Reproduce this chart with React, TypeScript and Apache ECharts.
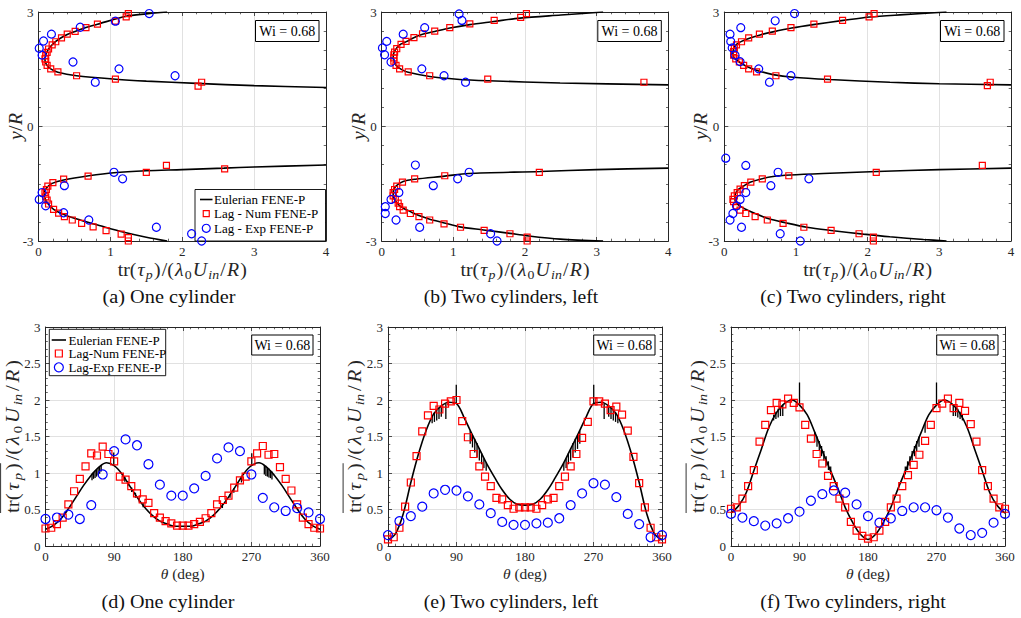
import React, { useEffect, useRef } from 'react';
import * as echarts from 'echarts';

const SERIF = '"Liberation Serif", "Times New Roman", Times, serif';
const INK = '#262626';
const GRIDLINE = '#e1e1e1';
const RED = '#ff0000';
const BLUE = '#0000ff';

// ---------- (a)-(c): polymer stress trace along the vertical line, pairs [tr, y/R] ----------
const eulerA_upper: number[][] = [[1.79, 3.0], [1.5, 2.95], [1.22, 2.89], [0.82, 2.68], [0.65, 2.59], [0.51, 2.49], [0.4, 2.41], [0.31, 2.32], [0.24, 2.23], [0.19, 2.14], [0.14, 2.03], [0.115, 1.94], [0.095, 1.84], [0.09, 1.76], [0.095, 1.69], [0.12, 1.6], [0.17, 1.51], [0.27, 1.42], [0.53, 1.33], [1.07, 1.24], [1.5, 1.19], [2.2, 1.13], [3.0, 1.07], [4.0, 1.02]];
const eulerA_lower: number[][] = [[4.0, -1.01], [3.0, -1.06], [2.58, -1.09], [2.0, -1.13], [1.5, -1.16], [1.05, -1.21], [0.7, -1.29], [0.35, -1.4], [0.19, -1.49], [0.12, -1.59], [0.085, -1.7], [0.08, -1.8], [0.09, -1.88], [0.12, -2.0], [0.21, -2.17], [0.37, -2.32], [0.58, -2.45], [0.86, -2.6], [1.19, -2.77], [1.5, -2.9], [1.79, -3.0]];
const numA: number[][] = [[1.25, 2.96], [1.22, 2.87], [1.07, 2.76], [0.82, 2.68], [0.66, 2.59], [0.51, 2.49], [0.4, 2.42], [0.32, 2.32], [0.24, 2.22], [0.19, 2.14], [0.14, 2.03], [0.12, 1.94], [0.1, 1.86], [0.09, 1.77], [0.1, 1.69], [0.12, 1.6], [0.17, 1.51], [0.27, 1.43], [0.53, 1.33], [1.07, 1.24], [2.22, 1.06], [2.27, 1.16],
  [1.78, -1.02], [2.59, -1.11], [1.5, -1.2], [0.69, -1.3], [0.35, -1.38], [0.2, -1.47], [0.13, -1.56], [0.11, -1.65], [0.09, -1.73], [0.1, -1.84], [0.12, -1.93], [0.14, -2.03], [0.21, -2.17], [0.28, -2.27], [0.36, -2.36], [0.47, -2.45], [0.6, -2.54], [0.76, -2.63], [0.94, -2.73], [1.15, -2.82], [1.25, -2.91], [1.25, -3.0]];
const expA: number[][] = [[1.54, 2.96], [1.07, 2.76], [0.58, 2.6], [0.18, 2.42], [0.07, 2.24], [0.01, 2.05], [0.05, 1.87], [0.48, 1.69], [1.12, 1.51], [1.9, 1.33], [0.79, 1.16],
  [1.05, -1.2], [1.17, -1.37], [0.36, -1.55], [0.05, -1.73], [0.01, -1.91], [0.1, -2.08], [0.35, -2.26], [0.7, -2.45], [1.64, -2.64], [2.13, -2.81], [2.27, -3.0]];

const eulerB_upper: number[][] = [[3.09, 3.0], [2.5, 2.92], [1.93, 2.84], [1.56, 2.75], [1.23, 2.67], [0.95, 2.58], [0.74, 2.49], [0.56, 2.41], [0.44, 2.32], [0.35, 2.23], [0.26, 2.15], [0.21, 2.06], [0.17, 1.93], [0.16, 1.8], [0.18, 1.67], [0.21, 1.58], [0.28, 1.49], [0.37, 1.42], [0.67, 1.31], [1.05, 1.24], [1.49, 1.2], [2.49, 1.14], [4.0, 1.09]];
const eulerB_lower: number[][] = [[4.0, -1.09], [3.0, -1.13], [2.21, -1.18], [1.21, -1.23], [0.88, -1.3], [0.47, -1.38], [0.3, -1.44], [0.2, -1.56], [0.16, -1.71], [0.16, -1.84], [0.2, -1.97], [0.28, -2.12], [0.4, -2.23], [0.53, -2.34], [0.67, -2.43], [0.86, -2.52], [1.09, -2.63], [1.42, -2.71], [1.79, -2.8], [2.02, -2.86], [2.49, -2.95], [3.09, -3.0]];
const numB: number[][] = [[2.02, 2.96], [1.94, 2.86], [1.57, 2.78], [1.23, 2.69], [0.95, 2.59], [0.74, 2.5], [0.57, 2.43], [0.45, 2.33], [0.34, 2.23], [0.27, 2.15], [0.21, 2.04], [0.18, 1.95], [0.17, 1.88], [0.17, 1.8], [0.17, 1.71], [0.2, 1.6], [0.25, 1.51], [0.37, 1.43], [0.67, 1.33], [1.48, 1.24], [3.66, 1.16],
  [2.2, -1.2], [0.88, -1.29], [0.46, -1.37], [0.29, -1.46], [0.21, -1.56], [0.18, -1.65], [0.16, -1.73], [0.16, -1.82], [0.19, -1.91], [0.23, -2.01], [0.25, -2.1], [0.3, -2.19], [0.4, -2.28], [0.52, -2.36], [0.67, -2.45], [0.87, -2.55], [1.1, -2.64], [1.43, -2.72], [1.79, -2.81], [2.03, -2.9], [2.03, -3.0]];
const expB: number[][] = [[1.08, 2.95], [1.12, 2.78], [0.6, 2.59], [0.3, 2.42], [0.07, 2.23], [0.01, 2.06], [0.04, 1.88], [0.13, 1.69], [0.56, 1.51], [0.87, 1.33], [1.17, 1.16],
  [0.47, -1.01], [1.22, -1.2], [1.06, -1.37], [0.72, -1.55], [0.24, -1.73], [0.13, -1.91], [0.05, -2.1], [0.05, -2.28], [0.2, -2.45], [0.53, -2.64], [1.52, -2.81], [1.61, -3.0]];

const eulerC_upper: number[][] = [[3.1, 3.0], [2.5, 2.93], [2.03, 2.87], [1.66, 2.78], [1.24, 2.67], [0.94, 2.58], [0.68, 2.48], [0.5, 2.4], [0.36, 2.32], [0.24, 2.23], [0.17, 2.15], [0.13, 2.03], [0.12, 1.93], [0.13, 1.82], [0.18, 1.73], [0.24, 1.65], [0.33, 1.56], [0.47, 1.46], [0.68, 1.36], [0.96, 1.29], [1.47, 1.23], [2.31, 1.16], [3.0, 1.12], [4.0, 1.09]];
const eulerC_lower: number[][] = [[4.0, -1.09], [3.0, -1.13], [2.13, -1.18], [1.38, -1.23], [0.92, -1.27], [0.68, -1.31], [0.5, -1.38], [0.36, -1.46], [0.27, -1.56], [0.19, -1.66], [0.15, -1.8], [0.15, -1.93], [0.2, -2.06], [0.29, -2.16], [0.43, -2.28], [0.61, -2.41], [0.85, -2.52], [1.15, -2.64], [1.52, -2.73], [1.94, -2.82], [2.31, -2.89], [2.78, -2.96], [3.1, -3.0]];
const numC: number[][] = [[2.09, 2.96], [2.02, 2.87], [1.65, 2.78], [1.25, 2.68], [0.93, 2.59], [0.67, 2.5], [0.49, 2.42], [0.34, 2.32], [0.24, 2.22], [0.17, 2.14], [0.14, 2.05], [0.13, 1.96], [0.13, 1.87], [0.16, 1.77], [0.21, 1.69], [0.27, 1.6], [0.34, 1.51], [0.45, 1.43], [0.72, 1.33], [1.44, 1.24], [3.67, 1.07], [3.71, 1.16],
  [3.6, -1.02], [2.12, -1.2], [0.9, -1.29], [0.53, -1.37], [0.37, -1.46], [0.28, -1.55], [0.22, -1.64], [0.18, -1.73], [0.14, -1.82], [0.12, -1.91], [0.13, -1.97], [0.17, -2.08], [0.22, -2.19], [0.3, -2.28], [0.43, -2.36], [0.6, -2.45], [0.82, -2.54], [1.11, -2.64], [1.49, -2.72], [1.88, -2.81], [2.08, -2.9], [2.08, -3.0]];
const expC: number[][] = [[0.98, 2.96], [0.71, 2.77], [0.23, 2.59], [0.08, 2.42], [0.09, 2.23], [0.11, 2.06], [0.15, 1.87], [0.22, 1.7], [0.48, 1.51], [0.93, 1.33], [0.63, 1.16],
  [0.02, -0.83], [0.3, -1.02], [0.75, -1.2], [1.18, -1.37], [0.65, -1.55], [0.3, -1.73], [0.22, -1.91], [0.17, -2.08], [0.12, -2.28], [0.08, -2.45], [0.24, -2.64], [0.78, -2.81], [1.06, -3.0]];

// ---------- (d)-(f): stress trace on the cylinder surface versus theta ----------
const THETA_CURVE = [0, 10, 20, 30, 40, 50, 60, 70, 80, 90, 100, 110, 120, 130, 140, 150, 160, 170, 180, 190, 200, 210, 220, 230, 240, 250, 260, 270, 280, 290, 300, 310, 320, 330, 340, 350, 360];
const THETA_NUM = [0, 7.5, 15, 22.5, 30, 37.5, 45, 52.5, 60, 67.5, 75, 82.5, 90, 97.5, 105, 112.5, 120, 127.5, 135, 142.5, 150, 157.5, 165, 172.5, 180, 187.5, 195, 202.5, 210, 217.5, 225, 232.5, 240, 247.5, 255, 262.5, 270, 277.5, 285, 292.5, 300, 307.5, 315, 322.5, 330, 337.5, 345, 352.5, 360];
const THETA_EXP = [0, 15, 30, 45, 60, 75, 90, 105, 120, 135, 150, 165, 180, 195, 210, 225, 240, 255, 270, 285, 300, 315, 330, 345, 360];

const eulerD = [0.23, 0.28, 0.37, 0.51, 0.67, 0.83, 0.97, 1.08, 1.14, 1.1, 0.99, 0.83, 0.67, 0.53, 0.42, 0.34, 0.3, 0.27, 0.27, 0.27, 0.3, 0.34, 0.42, 0.53, 0.67, 0.83, 0.99, 1.1, 1.14, 1.08, 0.97, 0.83, 0.67, 0.51, 0.37, 0.28, 0.23];
const numD = [0.24, 0.25, 0.3, 0.39, 0.57, 0.75, 0.92, 1.09, 1.27, 1.24, 1.36, 1.26, 1.16, 0.95, 0.91, 0.82, 0.72, 0.64, 0.59, 0.45, 0.39, 0.34, 0.31, 0.28, 0.28, 0.28, 0.3, 0.33, 0.38, 0.45, 0.57, 0.63, 0.69, 0.8, 0.9, 0.95, 1.16, 1.27, 1.37, 1.25, 1.26, 1.08, 0.92, 0.76, 0.57, 0.39, 0.3, 0.25, 0.24];
const expD = [0.37, 0.39, 0.43, 0.37, 0.56, 0.98, 1.3, 1.46, 1.38, 1.12, 0.84, 0.69, 0.69, 0.79, 0.96, 1.2, 1.35, 1.3, 0.98, 0.66, 0.53, 0.48, 0.52, 0.46, 0.37];
// oscillation spikes of the Eulerian trace: [theta, low, high]
const spikesD: number[][] = [[61, 0.9, 0.99], [63, 0.92, 1.01], [65, 0.93, 1.03], [67, 0.95, 1.05], [69, 0.97, 1.07], [71, 0.99, 1.09], [73, 1.02, 1.11], [89.5, 1.1, 1.28], [104, 0.88, 0.95], [108, 0.82, 0.89], [113, 0.74, 0.8], [118, 0.66, 0.73], [123, 0.6, 0.66], [128, 0.53, 0.59], [232, 0.52, 0.58], [237, 0.58, 0.64], [242, 0.66, 0.71], [247, 0.73, 0.79], [252, 0.8, 0.87], [257, 0.87, 0.95], [270.5, 1.1, 1.27], [287, 0.98, 1.11], [289, 0.96, 1.1], [291, 0.95, 1.08], [293, 0.94, 1.06], [295, 0.93, 1.04], [297, 0.91, 1.02]];

const eulerE = [0.08, 0.17, 0.44, 0.87, 1.26, 1.58, 1.81, 1.92, 1.97, 1.95, 1.76, 1.54, 1.33, 1.12, 0.94, 0.77, 0.64, 0.57, 0.56, 0.57, 0.64, 0.77, 0.94, 1.12, 1.33, 1.54, 1.76, 1.95, 1.97, 1.92, 1.81, 1.58, 1.26, 0.87, 0.44, 0.17, 0.08];
const numE = [0.09, 0.12, 0.25, 0.54, 0.87, 1.23, 1.57, 1.79, 1.92, 1.87, 1.95, 1.98, 2.0, 1.71, 1.49, 1.26, 1.09, 0.95, 0.82, 0.66, 0.64, 0.56, 0.51, 0.53, 0.53, 0.53, 0.51, 0.56, 0.64, 0.66, 0.82, 0.95, 1.09, 1.26, 1.48, 1.7, 1.98, 1.98, 1.95, 1.86, 1.91, 1.8, 1.58, 1.22, 0.86, 0.53, 0.25, 0.12, 0.09];
const expE = [0.15, 0.34, 0.41, 0.54, 0.72, 0.77, 0.76, 0.68, 0.57, 0.45, 0.33, 0.29, 0.29, 0.31, 0.32, 0.38, 0.56, 0.72, 0.86, 0.84, 0.67, 0.44, 0.3, 0.12, 0.15];
const spikesE: number[][] = [[58, 1.68, 1.79], [61, 1.7, 1.83], [64, 1.72, 1.86], [67, 1.74, 1.89], [70, 1.77, 1.92], [76, 1.74, 1.95], [89.7, 1.95, 2.21], [108, 1.4, 1.58], [111, 1.35, 1.52], [114, 1.28, 1.47], [117, 1.22, 1.41], [120, 1.17, 1.34], [123, 1.12, 1.27], [126, 1.07, 1.2], [129, 1.03, 1.14], [231, 1.03, 1.14], [234, 1.07, 1.2], [237, 1.12, 1.27], [240, 1.17, 1.34], [243, 1.22, 1.41], [246, 1.28, 1.47], [249, 1.33, 1.52], [252, 1.4, 1.58], [270.3, 1.95, 2.21], [284, 1.74, 1.95], [290, 1.77, 1.92], [293, 1.74, 1.89], [296, 1.72, 1.86], [299, 1.7, 1.83], [302, 1.68, 1.79]];

const eulerF = [0.45, 0.55, 0.73, 1.03, 1.33, 1.63, 1.83, 1.95, 2.0, 1.93, 1.8, 1.56, 1.3, 1.05, 0.8, 0.53, 0.32, 0.16, 0.09, 0.16, 0.32, 0.53, 0.8, 1.05, 1.3, 1.56, 1.8, 1.93, 2.0, 1.95, 1.83, 1.63, 1.33, 1.03, 0.73, 0.55, 0.45];
const numF = [0.51, 0.53, 0.65, 0.82, 1.04, 1.43, 1.66, 1.86, 1.96, 1.94, 2.02, 1.96, 1.9, 1.66, 1.47, 1.26, 1.13, 0.96, 0.82, 0.65, 0.53, 0.33, 0.21, 0.14, 0.1, 0.12, 0.21, 0.33, 0.53, 0.65, 0.82, 0.97, 1.11, 1.25, 1.44, 1.66, 1.89, 1.95, 2.02, 1.89, 1.96, 1.85, 1.67, 1.43, 1.04, 0.82, 0.65, 0.53, 0.51];
const expF = [0.44, 0.39, 0.34, 0.28, 0.31, 0.38, 0.47, 0.62, 0.71, 0.76, 0.73, 0.57, 0.41, 0.32, 0.38, 0.48, 0.53, 0.53, 0.49, 0.39, 0.24, 0.15, 0.18, 0.32, 0.44];
const spikesF: number[][] = [[56, 1.72, 1.8], [59, 1.74, 1.84], [62, 1.76, 1.88], [65, 1.78, 1.91], [68, 1.78, 1.94], [90, 1.93, 2.24], [110, 1.42, 1.56], [113, 1.36, 1.5], [116, 1.3, 1.44], [119, 1.23, 1.37], [122, 1.17, 1.3], [125, 1.1, 1.23], [128, 1.04, 1.16], [131, 0.98, 1.09], [229, 0.98, 1.09], [232, 1.04, 1.16], [235, 1.1, 1.23], [238, 1.17, 1.3], [241, 1.23, 1.37], [244, 1.3, 1.44], [247, 1.36, 1.5], [255, 1.55, 1.68], [270, 1.93, 2.24], [292, 1.78, 1.94], [295, 1.78, 1.91], [298, 1.76, 1.88], [301, 1.74, 1.84], [304, 1.72, 1.8]];

const WI_TEXT = 'Wi = 0.68';
const LEGEND_TOP = ['Eulerian FENE-P', 'Lag - Num FENE-P', 'Lag - Exp FENE-P'];
const LEGEND_BOTTOM = ['Eulerian FENE-P', 'Lag-Num FENE-P', 'Lag-Exp FENE-P'];

// ---------- layout ----------
const TOP_PANELS = [
  { box: [38.5, 12, 287.5, 229], euler: [eulerA_upper, eulerA_lower], num: numA, exp: expA, caption: '(a) One cylinder', capX: 169, capW: 133 },
  { box: [381.7, 12, 286.6, 229], euler: [eulerB_upper, eulerB_lower], num: numB, exp: expB, caption: '(b) Two cylinders, left', capX: 511, capW: 175 },
  { box: [724.3, 12, 286.7, 229], euler: [eulerC_upper, eulerC_lower], num: numC, exp: expC, caption: '(c) Two cylinders, right', capX: 853, capW: 186 },
];
const BOTTOM_PANELS = [
  { box: [45.5, 327, 274.5, 219], euler: eulerD, num: numD, exp: expD, spikes: spikesD, caption: '(d) One cylinder', capX: 168, capW: 133 },
  { box: [388, 327, 274, 219], euler: eulerE, num: numE, exp: expE, spikes: spikesE, caption: '(e) Two cylinders, left', capX: 511, capW: 175 },
  { box: [731, 327, 274, 219], euler: eulerF, num: numF, exp: expF, spikes: spikesF, caption: '(f) Two cylinders, right', capX: 853, capW: 186 },
];

let ctx2d: CanvasRenderingContext2D | null = null;
function textWidth(t: string, size: number, italic: boolean): number {
  if (!ctx2d) ctx2d = document.createElement('canvas').getContext('2d');
  if (!ctx2d) return t.length * size * 0.5;
  ctx2d.font = `${italic ? 'italic ' : ''}${size}px ${SERIF}`;
  return ctx2d.measureText(t).width;
}

type Tok = { t: string; it?: boolean; sub?: boolean };

// lays out a small formula token by token (italics, subscripts, optional overline);
// a mild horizontal stretch plus thin spacing brings it to the wanted length
function mathLabel(toks: Tok[], size: number, cx: number, cy: number, target: number | null, vertical: boolean, overlineTo = 0) {
  const subSize = size * 0.7;
  const widths = toks.map((k) => textWidth(k.t, k.sub ? subSize : size, !!k.it));
  const natural = widths.reduce((a, b) => a + b, 0);
  let scale = 1;
  let gap = 0;
  if (target) {
    scale = Math.min(target / natural, 1.1);
    gap = Math.max(0, (target / scale - natural) / Math.max(toks.length - 1, 1));
  }
  const total = natural + gap * (toks.length - 1);
  let x = -total / 2;
  let overEnd = x;
  const children: any[] = [];
  toks.forEach((k, i) => {
    children.push({
      type: 'text',
      x,
      y: k.sub ? size * 0.3 : 0,
      style: {
        text: k.t,
        fontSize: k.sub ? subSize : size,
        fontFamily: SERIF,
        fontStyle: k.it ? 'italic' : 'normal',
        fill: INK,
        align: 'left',
        verticalAlign: 'middle',
        textAlign: 'left',
        textVerticalAlign: 'middle',
      },
    });
    x += widths[i];
    if (i < overlineTo) overEnd = x;
    x += gap;
  });
  if (overlineTo) {
    children.push({
      type: 'line',
      shape: { x1: -total / 2, y1: -size * 0.6, x2: overEnd, y2: -size * 0.6 },
      style: { stroke: INK, lineWidth: 0.9 },
    });
  }
  return { type: 'group', x: cx, y: cy, rotation: vertical ? Math.PI / 2 : 0, scaleX: scale, children };
}

function plainText(text: string, x: number, y: number, size: number, color = '#000', align = 'center', z = 1) {
  return {
    type: 'text',
    x,
    y,
    z,
    style: { text, fontSize: size, fontFamily: SERIF, fill: color, align, verticalAlign: 'middle', textAlign: align, textVerticalAlign: 'middle' },
  };
}

// caption text stretched horizontally to a given width
function caption(text: string, cx: number, cy: number, size: number, target: number) {
  const w = textWidth(text, size, false);
  return {
    type: 'group',
    x: cx,
    y: cy,
    scaleX: target / w,
    children: [plainText(text, 0, 0, size, '#111', 'center')],
  };
}

function wiBox(x1: number, y1: number, x2: number, y2: number) {
  return [
    { type: 'rect', z: 1, shape: { x: x1, y: y1, width: x2 - x1, height: y2 - y1 }, style: { fill: '#fff', stroke: '#000', lineWidth: 1 } },
    plainText(WI_TEXT, (x1 + x2) / 2, (y1 + y2) / 2 + 0.5, 14, '#000'),
  ];
}

function legendBox(x: number, y: number, w: number, h: number, rows: number[], lineX: [number, number], labels: string[], textX: number, sq: number, r: number) {
  const mx = (lineX[0] + lineX[1]) / 2;
  return [
    { type: 'rect', z: 1, shape: { x, y, width: w, height: h }, style: { fill: '#fff', stroke: '#000', lineWidth: 0.9 } },
    { type: 'line', z: 1, shape: { x1: lineX[0], y1: rows[0], x2: lineX[1], y2: rows[0] }, style: { stroke: '#000', lineWidth: 1.6 } },
    { type: 'rect', z: 1, shape: { x: mx - sq / 2, y: rows[1] - sq / 2, width: sq, height: sq }, style: { fill: 'none', stroke: RED, lineWidth: 1.2 } },
    { type: 'circle', z: 1, shape: { cx: mx, cy: rows[2], r }, style: { fill: 'none', stroke: BLUE, lineWidth: 1.2 } },
    plainText(labels[0], textX, rows[0], 13, '#000', 'left'),
    plainText(labels[1], textX, rows[1], 13, '#000', 'left'),
    plainText(labels[2], textX, rows[2], 13, '#000', 'left'),
  ];
}

function axisPair(gi: number, dim: 'x' | 'y', min: number, max: number, interval: number, minorSplit: number) {
  const base = {
    gridIndex: gi,
    type: 'value',
    min,
    max,
    interval,
    axisLine: { show: true, onZero: false, lineStyle: { color: INK, width: 1 } },
    axisTick: { show: true, inside: true, length: 4, lineStyle: { color: INK, width: 0.8 } },
    minorTick: { show: true, splitNumber: minorSplit, length: 2.3, lineStyle: { color: INK, width: 0.7 } },
    minorSplitLine: { show: false },
  };
  const primary = {
    ...base,
    position: dim === 'x' ? 'bottom' : 'left',
    axisLabel: { show: true, margin: dim === 'x' ? 4 : 5, fontFamily: SERIF, fontSize: 13, color: INK },
    splitLine: { show: true, lineStyle: { color: GRIDLINE, width: 1 } },
  };
  const mirror = {
    ...base,
    position: dim === 'x' ? 'top' : 'right',
    axisLabel: { show: false },
    splitLine: { show: false },
  };
  return [primary, mirror];
}

function scatter(ax: any, data: number[][], symbol: string, size: number, color: string) {
  return {
    type: 'scatter',
    ...ax,
    data,
    symbol,
    symbolSize: size,
    clip: false,
    silent: true,
    z: 3,
    itemStyle: { color: 'rgba(255,255,255,0)', borderColor: color, borderWidth: 1.2, opacity: 1 },
  };
}

const TAU_LABEL: Tok[] = [
  { t: 'tr(' }, { t: 'τ', it: true }, { t: 'p', it: true, sub: true }, { t: ')' },
  { t: '/(' }, { t: 'λ', it: true }, { t: '0', sub: true }, { t: 'U', it: true }, { t: 'in', it: true, sub: true },
  { t: '/' }, { t: 'R', it: true }, { t: ')' },
];

function buildOption() {
  const grid: any[] = [];
  const xAxis: any[] = [];
  const yAxis: any[] = [];
  const series: any[] = [];
  const graphics: any[] = [];

  TOP_PANELS.forEach((p) => {
    const gi = grid.length;
    const [left, top, width, height] = p.box;
    grid.push({ left, top, width, height });
    xAxis.push(...axisPair(gi, 'x', 0, 4, 1, 5));
    yAxis.push(...axisPair(gi, 'y', -3, 3, 3, 6));
    const ax = { xAxisIndex: 2 * gi, yAxisIndex: 2 * gi };
    p.euler.forEach((branch) =>
      series.push({ type: 'line', ...ax, data: branch, showSymbol: false, smooth: 0.3, silent: true, z: 2, lineStyle: { color: '#000', width: 1.6 } })
    );
    series.push(scatter(ax, p.num, 'rect', 6, RED));
    series.push(scatter(ax, p.exp, 'circle', 8, BLUE));

    graphics.push(...wiBox(left + width - 70.5, top + 8.5, left + width - 7, top + 29.5));
    graphics.push(mathLabel(TAU_LABEL, 18, left + width / 2, 269.5, 129, false));
    graphics.push(mathLabel([{ t: 'y', it: true }, { t: '/' }, { t: 'R', it: true }], 18, left - 23, top + height / 2, 27, true));
    graphics.push(caption(p.caption, p.capX, 297, 18, p.capW));
  });

  BOTTOM_PANELS.forEach((p) => {
    const gi = grid.length;
    const [left, top, width, height] = p.box;
    grid.push({ left, top, width, height });
    xAxis.push(...axisPair(gi, 'x', 0, 360, 90, 9));
    yAxis.push(...axisPair(gi, 'y', 0, 3, 0.5, 5));
    const ax = { xAxisIndex: 2 * gi, yAxisIndex: 2 * gi };
    series.push({
      type: 'line',
      ...ax,
      data: THETA_CURVE.map((t, k) => [t, p.euler[k]]),
      showSymbol: false,
      smooth: 0.35,
      silent: true,
      z: 2,
      lineStyle: { color: '#000', width: 1.6 },
    });
    series.push({
      type: 'custom',
      ...ax,
      data: p.spikes,
      silent: true,
      z: 2,
      encode: { x: 0, y: [1, 2] },
      renderItem: (_params: any, api: any) => {
        const a = api.coord([api.value(0), api.value(1)]);
        const b = api.coord([api.value(0), api.value(2)]);
        return { type: 'line', shape: { x1: a[0], y1: a[1], x2: b[0], y2: b[1] }, style: { stroke: '#000', lineWidth: 1.3 } };
      },
    });
    series.push(scatter(ax, THETA_NUM.map((t, k) => [t, p.num[k]]), 'rect', 7, RED));
    series.push(scatter(ax, THETA_EXP.map((t, k) => [t, p.exp[k]]), 'circle', 9, BLUE));

    graphics.push(...wiBox(left + width - 68.3, top + 8, left + width - 7, top + 28));
    graphics.push(mathLabel([{ t: 'θ', it: true }, { t: ' (deg)' }], 15, left + width / 2, 573.5, 44, false));
    graphics.push(mathLabel(TAU_LABEL, 19, left - 33.5, top + height / 2, 153, true, 4));
    graphics.push(caption(p.caption, p.capX, 602, 18, p.capW));
  });

  graphics.push(...legendBox(195, 189.5, 130.5, 51.5, [199.5, 213.7, 228.3], [200, 212.5], LEGEND_TOP, 214, 6, 4));
  graphics.push(...legendBox(49.3, 329.3, 116.4, 46.4, [340, 353.5, 367.3], [51.7, 66], LEGEND_BOTTOM, 68.5, 7, 4.5));

  return {
    animation: false,
    backgroundColor: '#fff',
    textStyle: { fontFamily: SERIF },
    grid,
    xAxis,
    yAxis,
    series,
    graphic: { elements: graphics },
  };
}

export default function App() {
  const ref = useRef<HTMLDivElement>(null);
  useEffect(() => {
    if (!ref.current) return;
    const chart = echarts.init(ref.current, undefined, { renderer: 'svg' });
    chart.setOption(buildOption() as any);
    return () => chart.dispose();
  }, []);
  return <div ref={ref} style={{ position: 'fixed', left: 0, top: 0, width: 1021, height: 618, background: '#fff' }} />;
}
